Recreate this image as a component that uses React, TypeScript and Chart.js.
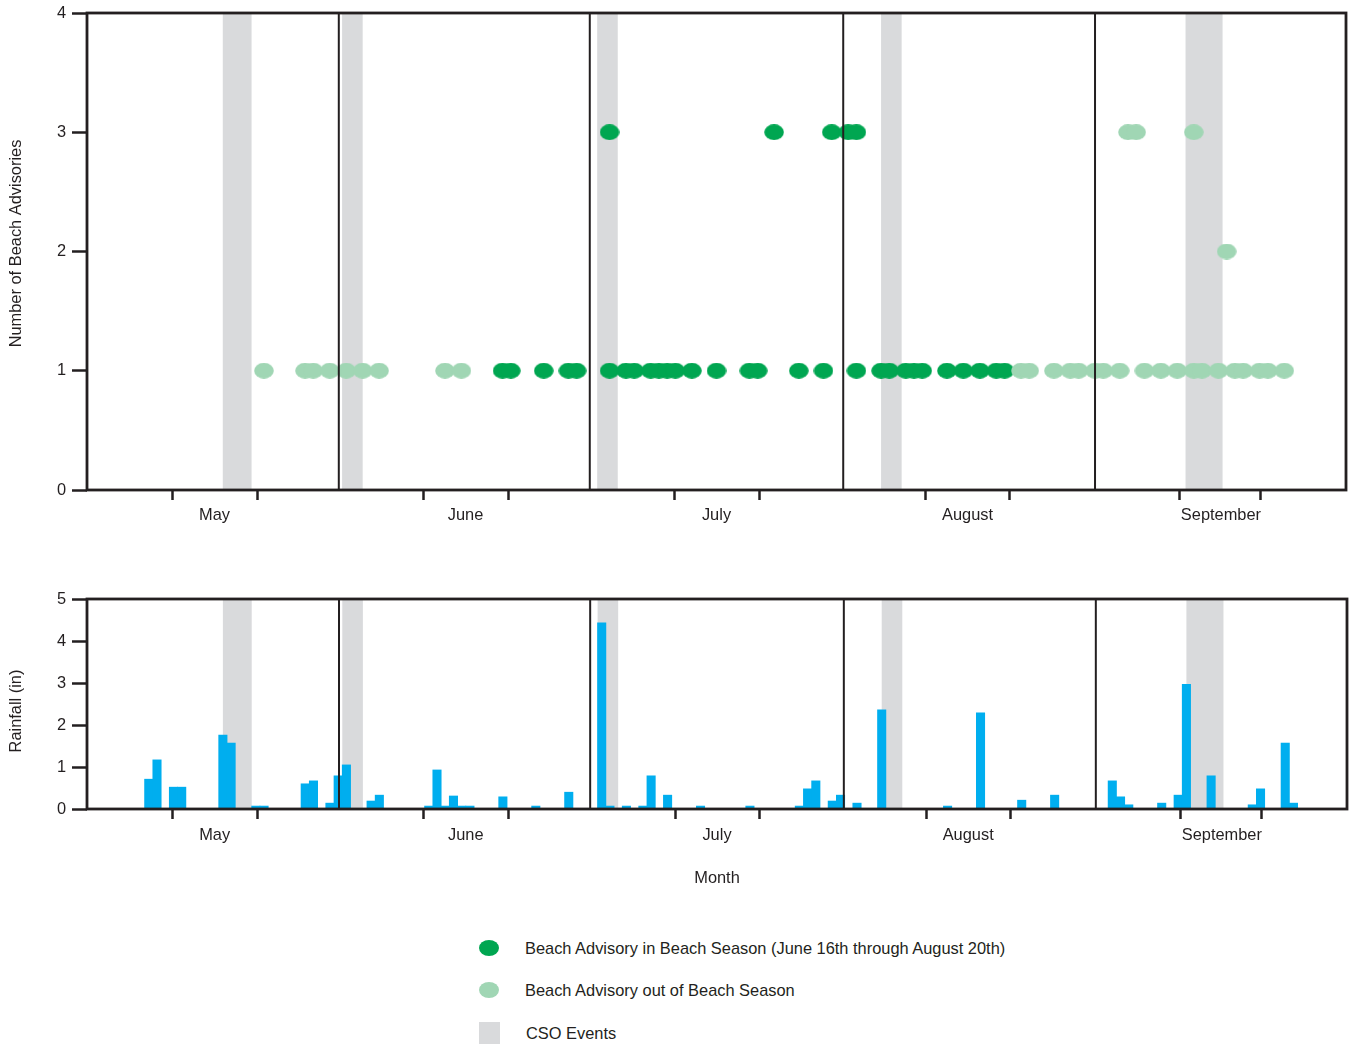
import React, { useEffect, useRef } from 'react';
import { Chart, registerables } from 'chart.js';

Chart.register(...registerables);

const FONT = '"Liberation Sans", Arial, sans-serif';
const FONT_SIZE = 16.4;
const INK = '#231f20';
const DARK_GREEN = '#00a651';
const LIGHT_GREEN = '#a0d6b4';
const RAIN_BLUE = '#00aeef';
const CSO_GREY = '#d9dadc';

// x axis: day index from May 1 (0) to Sep 30 end (153)
const MONTH_NAMES = ['May', 'June', 'July', 'August', 'September'];
const MONTH_LABEL_POS = [15.5, 46, 76.5, 107, 137.8];
const TICK_POS = [10.4, 20.7, 40.9, 51.2, 71.4, 81.7, 101.9, 112.1, 132.8, 142.6];
const MONTH_LINES = [30.6, 61.1, 91.9, 122.5];

// CSO events (shaded bands), in day-index units
const CSO_START = [16.5, 31, 62, 96.5, 133.5];
const CSO_END = [20, 33.5, 64.5, 99, 138];

// Beach advisories in beach season (June 16th - August 20th)
const IN_SEASON_DATES = [
  '6/20', '6/21', '6/25', '6/28', '6/29', '7/3', '7/5', '7/6', '7/8', '7/9', '7/10', '7/11', '7/13',
  '7/16', '7/20', '7/21', '7/26', '7/29', '8/2', '8/5', '8/6', '8/8', '8/9', '8/10', '8/13', '8/15',
  '8/17', '8/19', '8/20',
  '7/3', '7/23', '7/30', '8/1', '8/2',
];
const IN_SEASON_COUNTS = [
  1, 1, 1, 1, 1, 1, 1, 1, 1, 1, 1, 1, 1,
  1, 1, 1, 1, 1, 1, 1, 1, 1, 1, 1, 1, 1,
  1, 1, 1,
  3, 3, 3, 3, 3,
];

// Beach advisories out of beach season
const OUT_SEASON_DATES = [
  '5/22', '5/27', '5/28', '5/30', '6/1', '6/3', '6/5', '6/13', '6/15',
  '8/22', '8/23', '8/26', '8/28', '8/29', '8/31', '9/1', '9/3', '9/6', '9/8', '9/10', '9/12', '9/13',
  '9/15', '9/17', '9/18', '9/20', '9/21', '9/23',
  '9/4', '9/5', '9/12', '9/16',
];
const OUT_SEASON_COUNTS = [
  1, 1, 1, 1, 1, 1, 1, 1, 1,
  1, 1, 1, 1, 1, 1, 1, 1, 1, 1, 1, 1, 1,
  1, 1, 1, 1, 1, 1,
  3, 3, 3, 2,
];

// Daily rainfall (inches)
const RAIN_DATES = [
  '5/8', '5/9', '5/11', '5/12', '5/17', '5/18', '5/21', '5/22', '5/27', '5/28', '5/30', '5/31',
  '6/1', '6/4', '6/5', '6/11', '6/12', '6/13', '6/14', '6/15', '6/16', '6/20', '6/24', '6/28',
  '7/2', '7/3', '7/5', '7/7', '7/8', '7/10', '7/14', '7/20', '7/26', '7/27', '7/28', '7/30', '7/31',
  '8/2', '8/5', '8/13', '8/17', '8/22', '8/26',
  '9/2', '9/3', '9/4', '9/8', '9/10', '9/11', '9/14', '9/19', '9/20', '9/23', '9/24',
];
const RAIN_INCHES = [
  0.71, 1.17, 0.52, 0.52, 1.76, 1.57, 0.07, 0.07, 0.6, 0.67, 0.14, 0.79,
  1.05, 0.19, 0.33, 0.07, 0.93, 0.07, 0.31, 0.07, 0.07, 0.29, 0.07, 0.4,
  4.43, 0.07, 0.07, 0.07, 0.79, 0.33, 0.07, 0.07, 0.07, 0.48, 0.67, 0.19, 0.33,
  0.14, 2.36, 0.07, 2.29, 0.21, 0.33,
  0.67, 0.29, 0.1, 0.14, 0.33, 2.97, 0.79, 0.1, 0.48, 1.57, 0.14,
];

const MONTH_START: Record<string, number> = { '5': 0, '6': 31, '7': 61, '8': 92, '9': 123 };
const dayPos = (d: string) => {
  const [m, day] = d.split('/');
  return MONTH_START[m] + Number(day) - 1 + 0.5;
};

const ALL_X_TICKS = [...TICK_POS, ...MONTH_LABEL_POS].sort((a, b) => a - b);

function ellipseImage(color: string) {
  const c = document.createElement('canvas');
  c.width = 20;
  c.height = 16;
  const g = c.getContext('2d')!;
  g.fillStyle = color;
  g.beginPath();
  g.ellipse(10, 8, 9.8, 7.9, 0, 0, Math.PI * 2);
  g.fill();
  return c;
}

function xScale(axisHeight: number, labelPad: number, title?: string) {
  return {
    type: 'linear',
    min: 0,
    max: 153,
    offset: false,
    afterBuildTicks: (s: any) => {
      s.ticks = ALL_X_TICKS.map((v) => ({ value: v }));
    },
    afterFit: (s: any) => {
      s.height = axisHeight;
      s.paddingLeft = 0;
      s.paddingRight = 0;
    },
    ticks: {
      autoSkip: false,
      maxRotation: 0,
      minRotation: 0,
      padding: labelPad,
      color: INK,
      font: { family: FONT, size: FONT_SIZE },
      callback: (v: number) => {
        const i = MONTH_LABEL_POS.indexOf(v);
        return i >= 0 ? MONTH_NAMES[i] : '';
      },
    },
    grid: {
      display: true,
      offset: false,
      drawOnChartArea: false,
      drawTicks: true,
      tickLength: 10,
      tickWidth: 2.5,
      tickColor: (ctx: any) =>
        ctx.tick && MONTH_LABEL_POS.includes(ctx.tick.value) ? 'rgba(0,0,0,0)' : INK,
    },
    border: { display: false },
    title: title
      ? {
          display: true,
          text: title,
          color: INK,
          font: { family: FONT, size: FONT_SIZE },
          padding: { top: 0, bottom: 12 },
        }
      : { display: false },
  };
}

function yScale(max: number) {
  return {
    type: 'linear',
    min: 0,
    max,
    afterFit: (s: any) => {
      s.width = 87;
      s.paddingTop = 0;
      s.paddingBottom = 0;
    },
    ticks: {
      stepSize: 1,
      padding: 6,
      color: INK,
      font: { family: FONT, size: FONT_SIZE },
    },
    grid: {
      display: true,
      drawOnChartArea: false,
      drawTicks: true,
      tickLength: 15,
      tickWidth: 2.5,
      tickColor: INK,
    },
    border: { display: false },
    title: { display: false },
  };
}

// Draws the rotated y-axis title next to the y scale
function yTitlePlugin(text: string, shift: number) {
  return {
    id: 'yTitle',
    afterDraw(chart: any) {
      const { ctx, chartArea } = chart;
      ctx.save();
      ctx.fillStyle = INK;
      ctx.font = `${FONT_SIZE}px ${FONT}`;
      ctx.textAlign = 'center';
      ctx.textBaseline = 'middle';
      ctx.translate(16, (chartArea.top + chartArea.bottom) / 2 + shift);
      ctx.rotate(-Math.PI / 2);
      ctx.fillText(text, 0, 0);
      ctx.restore();
    },
  };
}

const decorPlugin = {
  id: 'decor',
  beforeDatasetsDraw(chart: any) {
    const { ctx, chartArea, scales } = chart;
    ctx.save();
    ctx.fillStyle = CSO_GREY;
    CSO_START.forEach((s, i) => {
      const x1 = scales.x.getPixelForValue(s);
      const x2 = scales.x.getPixelForValue(CSO_END[i]);
      ctx.fillRect(x1, chartArea.top, x2 - x1, chartArea.bottom - chartArea.top);
    });
    ctx.restore();
  },
  afterDatasetsDraw(chart: any) {
    const { ctx, chartArea, scales } = chart;
    ctx.save();
    ctx.strokeStyle = INK;
    ctx.lineWidth = 2;
    MONTH_LINES.forEach((v) => {
      const x = scales.x.getPixelForValue(v);
      ctx.beginPath();
      ctx.moveTo(x, chartArea.top);
      ctx.lineTo(x, chartArea.bottom);
      ctx.stroke();
    });
    ctx.restore();
  },
  afterDraw(chart: any) {
    const { ctx, chartArea } = chart;
    ctx.save();
    ctx.strokeStyle = INK;
    ctx.lineWidth = 2.8;
    ctx.strokeRect(
      chartArea.left,
      chartArea.top,
      chartArea.right - chartArea.left,
      chartArea.bottom - chartArea.top
    );
    ctx.restore();
  },
};

export default function App() {
  const topRef = useRef<HTMLCanvasElement>(null);
  const botRef = useRef<HTMLCanvasElement>(null);

  useEffect(() => {
    const darkImg = ellipseImage(DARK_GREEN);
    const lightImg = ellipseImage(LIGHT_GREEN);

    const top = new Chart(topRef.current!, {
      type: 'scatter',
      data: {
        datasets: [
          {
            label: 'Beach Advisory out of Beach Season',
            data: OUT_SEASON_DATES.map((d, i) => ({ x: dayPos(d), y: OUT_SEASON_COUNTS[i] })),
            pointStyle: lightImg as any,
            backgroundColor: LIGHT_GREEN,
          },
          {
            label: 'Beach Advisory in Beach Season (June 16th through August 20th)',
            data: IN_SEASON_DATES.map((d, i) => ({ x: dayPos(d), y: IN_SEASON_COUNTS[i] })),
            pointStyle: darkImg as any,
            backgroundColor: DARK_GREEN,
          },
        ],
      },
      options: {
        animation: false,
        responsive: false,
        events: [],
        layout: { padding: { top: 13, right: 4, left: 0, bottom: 0 } },
        plugins: { legend: { display: false }, tooltip: { enabled: false } },
        scales: {
          x: xScale(50, 6) as any,
          y: yScale(4) as any,
        },
      },
      plugins: [decorPlugin, yTitlePlugin('Number of Beach Advisories', -8)],
    });

    const bottom = new Chart(botRef.current!, {
      type: 'bar',
      data: {
        datasets: [
          {
            label: 'Rainfall (in)',
            data: RAIN_DATES.map((d, i) => ({ x: dayPos(d), y: RAIN_INCHES[i] })) as any,
            backgroundColor: RAIN_BLUE,
            borderWidth: 0,
            barThickness: 8.4,
          },
        ],
      },
      options: {
        animation: false,
        responsive: false,
        events: [],
        layout: { padding: { top: 59, right: 4, left: 0, bottom: 0 } },
        plugins: { legend: { display: false }, tooltip: { enabled: false } },
        scales: {
          x: xScale(91, 7, 'Month') as any,
          y: yScale(5) as any,
        },
      },
      plugins: [decorPlugin, yTitlePlugin('Rainfall (in)', 7)],
    });

    return () => {
      top.destroy();
      bottom.destroy();
    };
  }, []);

  const textStyle: React.CSSProperties = {
    position: 'absolute',
    fontFamily: FONT,
    fontSize: FONT_SIZE,
    color: INK,
    lineHeight: '20px',
    whiteSpace: 'nowrap',
  };

  return (
    <div
      style={{
        position: 'absolute',
        left: 0,
        top: 0,
        width: 1351,
        height: 1044,
        overflow: 'hidden',
        background: '#fff',
      }}
    >
      <canvas
        ref={topRef}
        width={1351}
        height={540}
        style={{ position: 'absolute', left: 0, top: 0, width: 1351, height: 540 }}
      />
      <canvas
        ref={botRef}
        width={1351}
        height={360}
        style={{ position: 'absolute', left: 0, top: 540, width: 1351, height: 360 }}
      />
      <div
        style={{
          position: 'absolute',
          left: 479,
          top: 940,
          width: 20,
          height: 16,
          borderRadius: '50%',
          background: DARK_GREEN,
        }}
      />
      <div style={{ ...textStyle, left: 525, top: 938 }}>
        Beach Advisory in Beach Season (June 16th through August 20th)
      </div>
      <div
        style={{
          position: 'absolute',
          left: 479,
          top: 982,
          width: 20,
          height: 16,
          borderRadius: '50%',
          background: LIGHT_GREEN,
        }}
      />
      <div style={{ ...textStyle, left: 525, top: 980 }}>Beach Advisory out of Beach Season</div>
      <div
        style={{
          position: 'absolute',
          left: 479,
          top: 1022,
          width: 21,
          height: 24,
          background: CSO_GREY,
        }}
      />
      <div style={{ ...textStyle, left: 526, top: 1023 }}>CSO Events</div>
    </div>
  );
}
